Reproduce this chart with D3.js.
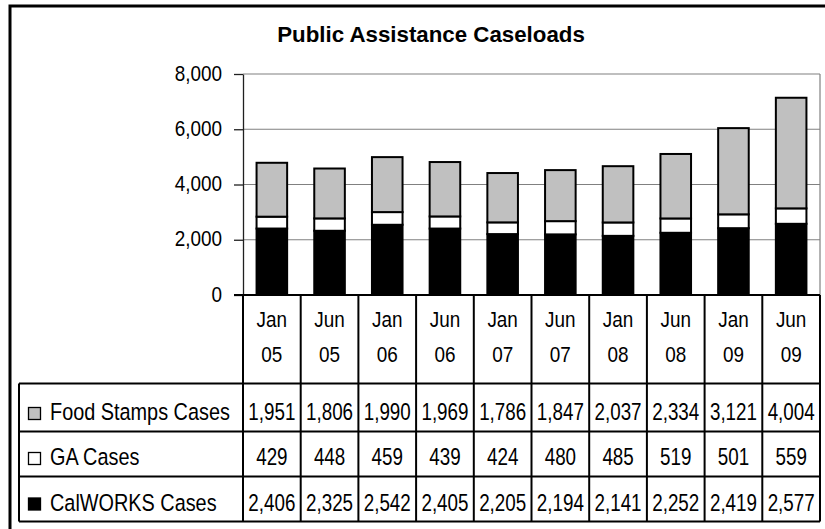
<!DOCTYPE html>
<html><head><meta charset="utf-8">
<script src="https://cdn.jsdelivr.net/npm/d3@7"></script>
<style>body{margin:0;background:#fff}svg{display:block}</style>
</head><body><svg id="c" width="825" height="529"></svg>
<script>
const monthLabels = ["Jan","Jun","Jan","Jun","Jan","Jun","Jan","Jun","Jan","Jun"];
const yearLabels  = ["05","05","06","06","07","07","08","08","09","09"];
const foodStamps = [1951,1806,1990,1969,1786,1847,2037,2334,3121,4004];
const gaCases    = [429,448,459,439,424,480,485,519,501,559];
const calworks   = [2406,2325,2542,2405,2205,2194,2141,2252,2419,2577];
const yTicks = [0,2000,4000,6000,8000];
const title = "Public Assistance Caseloads";

const periods = monthLabels.map((m,i)=>m+" "+yearLabels[i]);
const rows = [
  {name:"Food Stamps Cases", key:"fs", values:foodStamps, color:"#c0c0c0"},
  {name:"GA Cases", key:"ga", values:gaCases, color:"#ffffff"},
  {name:"CalWORKS Cases", key:"cw", values:calworks, color:"#000000"}
];
const data = periods.map((p,i)=>({period:p, cw:calworks[i], ga:gaCases[i], fs:foodStamps[i]}));

const L=243, R=820, T=74, B=295;
const SX=0.86, FS=22;
const svg = d3.select("#c");
const fmt = d3.format(",");

function txt(x,y,s,anchor,size,weight,sx){
  svg.append("text").attr("transform",`translate(${x},${y}) scale(${sx},1)`)
    .attr("text-anchor",anchor||"middle")
    .attr("font-family","'Liberation Sans', Arial, sans-serif")
    .attr("font-size",size||FS).attr("font-weight",weight||"normal")
    .attr("fill","#000").text(s);
}

// outer frame
svg.append("path").attr("d","M10,531 V6 H830").attr("fill","none").attr("stroke","#000").attr("stroke-width",3);

// title
txt(431, 42, title, "middle", 23, "bold", 0.97);

const x = d3.scaleBand().domain(periods).range([L,R]).paddingInner(0.47).paddingOuter(0.235);
const y = d3.scaleLinear().domain([0,8000]).range([B,T]);

// gridlines
svg.append("g").selectAll("line").data(yTicks.filter(d=>d>0)).join("line")
  .attr("x1",L).attr("x2",R).attr("y1",d=>y(d)).attr("y2",d=>y(d))
  .attr("stroke","#808080").attr("stroke-width",1.2);
svg.append("line").attr("x1",R).attr("x2",R).attr("y1",T).attr("y2",B).attr("stroke","#808080").attr("stroke-width",1.2);

// y axis
const ya = svg.append("g").attr("transform",`translate(${L},0)`)
  .call(d3.axisLeft(y).tickValues(yTicks).tickFormat(fmt).tickSize(9).tickSizeOuter(0));
ya.select(".domain").attr("stroke","#202020").attr("stroke-width",1.3);
ya.selectAll(".tick line").attr("stroke","#202020").attr("stroke-width",1.3);
ya.selectAll(".tick text").attr("x",null).attr("dy",null)
  .attr("transform",`translate(-21,6) scale(${SX},1)`)
  .attr("font-family","'Liberation Sans', Arial, sans-serif").attr("font-size",FS).attr("fill","#000");

// stacked bars
const stack = d3.stack().keys(["cw","ga","fs"])(data);
const colors = {cw:"#000000", ga:"#ffffff", fs:"#c0c0c0"};
svg.append("g").selectAll("g").data(stack).join("g")
  .attr("fill",d=>colors[d.key])
  .selectAll("rect").data(d=>d).join("rect")
  .attr("x",d=>x(d.data.period)).attr("width",x.bandwidth())
  .attr("y",d=>y(d[1])).attr("height",d=>y(d[0])-y(d[1]))
  .attr("stroke","#000").attr("stroke-width",2);

// x axis baseline
svg.append("line").attr("x1",L-9).attr("x2",R).attr("y1",B).attr("y2",B).attr("stroke","#000").attr("stroke-width",2);

// table
const step = x.step();
const rowLines = [383.5, 431.5, 476.5, 521.5];
const baselines = [420, 465, 510.5];
const g = svg.append("g").attr("stroke","#000").attr("stroke-width",2);
d3.range(periods.length+1).forEach(i=>{
  const xx = L + i*step;
  g.append("line").attr("x1",xx).attr("x2",xx).attr("y1",B).attr("y2",rowLines[3]);
});
g.append("line").attr("x1",19).attr("x2",19).attr("y1",rowLines[0]).attr("y2",rowLines[3]);
rowLines.forEach(ry=>{
  g.append("line").attr("x1",19).attr("x2",R).attr("y1",ry).attr("y2",ry);
});

// header labels
periods.forEach((p,i)=>{
  const cx = x(p)+x.bandwidth()/2;
  txt(cx, 327, monthLabels[i], "middle", FS, "normal", SX);
  txt(cx, 362, yearLabels[i], "middle", FS, "normal", SX);
});

// rows
rows.forEach((r,ri)=>{
  svg.append("rect").attr("x",28.5).attr("y",baselines[ri]-12.5).attr("width",12).attr("height",12)
    .attr("fill",r.color).attr("stroke","#000").attr("stroke-width",1.3);
  txt(50, baselines[ri], r.name, "start", 23.5, "normal", 0.845);
  r.values.forEach((v,i)=>{
    txt(x(periods[i])+x.bandwidth()/2, baselines[ri], fmt(v), "middle", 23.5, "normal", 0.8);
  });
});
</script></body></html>
